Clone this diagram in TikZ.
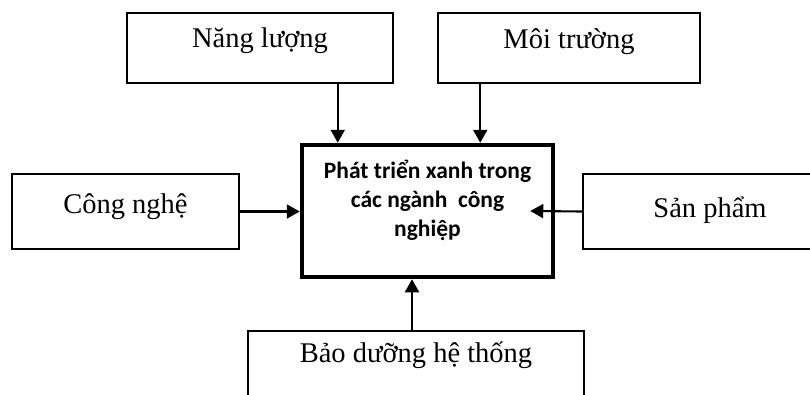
\documentclass[tikz,border=0pt]{standalone}
\usepackage{fontspec}
\setmainfont{Liberation Serif}
\newfontfamily\boldsans{Carlito}
\usetikzlibrary{arrows.meta}

\begin{document}
\begin{tikzpicture}[x=1pt,y=-1pt,
    box/.style={draw,line width=1.8pt,inner sep=0pt,font=\fontsize{28.5}{34}\selectfont},
    mainbox/.style={draw,line width=4.5pt,inner sep=0pt,minimum width=251pt,minimum height=132pt},
    flow/.style={-{Triangle[length=13pt,width=14pt]},line width=2.1pt}]%
     \useasboundingbox (0,0) rectangle (810,394);
     \clip (0,0) rectangle (810,394);

     % the five boxes round the middle one
     \node[box,minimum width=266pt,text height=34pt,text depth=36pt] at (260,48) (nang) {Năng lượng};
     \node[box,minimum width=262pt,text height=35pt,text depth=35pt] at (569,48) (moi) {Môi trường};
     \node[box,minimum width=227pt,text height=39pt,text depth=36pt] at (125.5,211.5) (cong) {Công nghệ};
     \node[box,minimum width=254pt,text height=43pt,text depth=32pt] at (710,211.5) (sanpham) {Sản phẩm};
     \node[box,minimum width=336pt,text height=31pt,text depth=50pt] at (416,371.5) (baoduong) {Bảo dưỡng hệ thống};

     \node[mainbox] at (427.5,211) (xanh) {};
     \node[anchor=north,inner sep=0pt,align=center,font=\boldsans\bfseries\fontsize{23.5}{29}\selectfont]
          at ([yshift=-17pt]xanh.north) (xanhtext) {Phát triển xanh trong\\các ngành~ công\\nghiệp};

      % arrows
      \path ([xshift=38pt]xanh.north west) coordinate (in1);
      \path ([xshift=-75pt]xanh.north east) coordinate (in2);
      \draw[flow] (nang.south -| in1) -- (in1);
      \draw[flow] (moi.south -| in2) -- (in2);
      \draw[flow] (cong.east) -- (cong.east -| xanh.west);
      \draw[flow] (sanpham.west) -- ([xshift=-25pt]xanh.east);
      \draw[flow] ([xshift=-4pt]baoduong.north) coordinate (in3) -- (in3 |- xanh.south);
\end{tikzpicture}
\end{document}
